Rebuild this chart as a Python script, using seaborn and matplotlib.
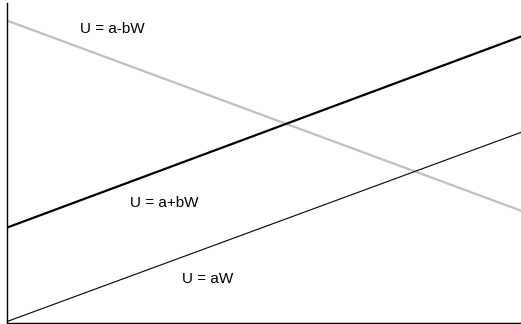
import matplotlib
matplotlib.use("Agg")
import matplotlib.pyplot as plt
import seaborn as sns
import pandas as pd

## data (W on x, U on y)
w = [0, 10]
u_minus = [9.45, 3.5]    # U = a-bW
u_plus = [2.97, 8.95]    # U = a+bW
u_aw = [0.03, 5.95]      # U = aW

labels = ["U = a-bW", "U = a+bW", "U = aW"]
label_w = [2.05, 3.05, 3.9]
label_u = [9.2, 3.75, 1.35]

sns.set_style("white")
plt.rcParams['font.family'] = ['Liberation Sans', 'DejaVu Sans']

df = pd.DataFrame({"W": w + w + w,
                   "U": u_minus + u_plus + u_aw,
                   "line": [labels[0]] * 2 + [labels[1]] * 2 + [labels[2]] * 2})

fig = plt.figure(figsize=(5.21, 3.24), dpi=100)
ax = fig.add_axes([7 / 521, 1.5 / 324, 1 - 7 / 521, 1 - 4.5 / 324])

sns.lineplot(data=df[df.line == labels[0]], x="W", y="U", color="#c0c0c0", linewidth=1.6, ax=ax)
sns.lineplot(data=df[df.line == labels[1]], x="W", y="U", color="black", linewidth=1.6, ax=ax)
sns.lineplot(data=df[df.line == labels[2]], x="W", y="U", color="black", linewidth=0.8, ax=ax)

for t, x, y in zip(labels, label_w, label_u):
    ax.text(x, y, t, fontsize=11, ha="center", va="center", color="black")

ax.set_xlim(0, 10)
ax.set_ylim(0, 10)
ax.set_xticks([])
ax.set_yticks([])
ax.set_xlabel("")
ax.set_ylabel("")
sns.despine(ax=ax)
for s in ["left", "bottom"]:
    ax.spines[s].set_color("black")
    ax.spines[s].set_linewidth(1.0)

fig.savefig("out.png", dpi=100)
